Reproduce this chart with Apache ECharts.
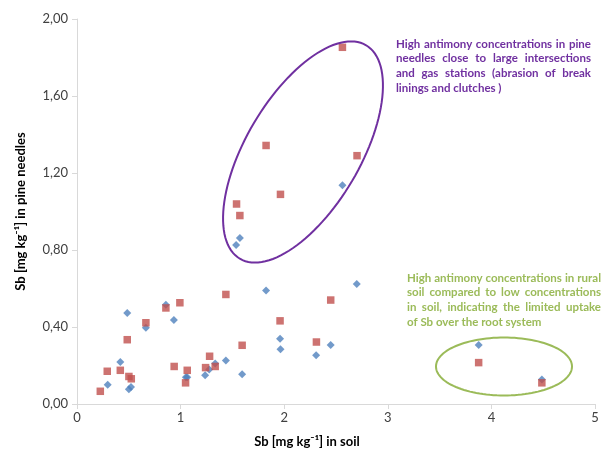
<!DOCTYPE html>
<html>
<head>
<meta charset="utf-8">
<script src="https://cdn.jsdelivr.net/npm/echarts@6/dist/echarts.min.js"></script>
<style>html,body{margin:0;padding:0;background:#fff}#c{width:603px;height:453px}</style>
</head>
<body>
<div id="c"></div>
<script>
// Series A (blue diamonds): [Sb soil, Sb pine needles]
const seriesA = [
  [0.296,0.100],[0.418,0.218],[0.485,0.473],[0.501,0.076],[0.521,0.088],
  [0.665,0.396],[0.858,0.516],[0.935,0.437],[1.051,0.139],[1.064,0.139],
  [1.237,0.150],[1.276,0.179],[1.334,0.210],[1.437,0.226],[1.594,0.155],
  [1.825,0.590],[1.960,0.339],[1.964,0.285],[2.308,0.253],[2.449,0.306],
  [2.700,0.623],[2.562,1.137],[1.572,0.862],[1.536,0.826],[3.877,0.306],
  [4.487,0.127]
];
// Series B (red squares)
const seriesB = [
  [0.225,0.066],[0.292,0.170],[0.418,0.175],[0.485,0.334],[0.501,0.143],
  [0.524,0.131],[0.665,0.422],[0.858,0.499],[0.993,0.526],[0.938,0.195],
  [1.048,0.110],[1.064,0.175],[1.241,0.189],[1.280,0.248],[1.334,0.195],
  [1.437,0.569],[1.594,0.305],[1.960,0.432],[2.311,0.322],[2.449,0.540],
  [2.562,1.853],[1.825,1.343],[2.703,1.290],[1.964,1.089],[1.540,1.039],
  [1.572,0.979],[3.877,0.215],[4.487,0.110]
];
const xTicks = [0,1,2,3,4,5];
const yTicks = [0,0.4,0.8,1.2,1.6,2.0];
const xTitle = 'Sb [mg kg\u207B\u00B9] in soil';
const yTitle = 'Sb [mg kg\u207B\u00B9] in pine needles';
const noteTraffic = [
  'High antimony concentrations in pine',
  'needles close to large intersections',
  'and gas stations  (abrasion of break',
  'linings and clutches )'
];
const noteRural = [
  'High antimony concentrations in rural',
  'soil compared to low concentrations',
  'in soil, indicating the limited uptake',
  'of Sb over the root system'
];

function ellipsePts(cx, cy, a, b, deg) {
  const t = deg * Math.PI / 180, pts = [];
  for (let i = 0; i < 120; i++) {
    const u = i / 120 * 2 * Math.PI;
    const ex = a * Math.cos(u), ey = b * Math.sin(u);
    pts.push([cx + ex * Math.cos(t) - ey * Math.sin(t), cy - (ex * Math.sin(t) + ey * Math.cos(t))]);
  }
  return pts;
}
const NOTE_FONT = 'bold 11.5px Lato';
const ctx = document.createElement('canvas').getContext('2d');
ctx.font = NOTE_FONT;
// Justified paragraph: every line but the last is stretched to the box width
function noteLines(lines, x, y0, lh, width, color) {
  const out = [];
  lines.forEach((s, i) => {
    const y = y0 + i * lh;
    const words = s.split(/ +/);
    const last = i === lines.length - 1;
    if (last || words.length < 2) {
      out.push({ type: 'text', left: x, top: y, z: 10,
        style: { text: s, fill: color, font: NOTE_FONT } });
      return;
    }
    const ww = words.map(w => ctx.measureText(w).width);
    const gap = (width - ww.reduce((p, q) => p + q, 0)) / (words.length - 1);
    let cx = x;
    words.forEach((w, k) => {
      out.push({ type: 'text', x: cx, y: y, z: 10,
        style: { text: w, fill: color, font: NOTE_FONT } });
      cx += ww[k] + gap;
    });
  });
  return out;
}

const chart = echarts.init(document.getElementById('c'), null, {renderer: 'canvas'});
const axisCommon = {
  axisLine: { show: true, lineStyle: { color: '#D9D9D9', width: 1 } },
  axisTick: { show: true, length: 5, lineStyle: { color: '#D9D9D9' } },
  splitLine: { show: false },
  axisLabel: { color: '#404040', fontSize: 13, fontFamily: 'Lato' },
  nameTextStyle: { color: '#000', fontSize: 13, fontWeight: 'bold', fontFamily: 'Lato' }
};
chart.setOption({
  animation: false,
  grid: { left: 77, right: 8, top: 19, bottom: 46 },
  xAxis: Object.assign({}, axisCommon, {
    type: 'value', min: xTicks[0], max: xTicks[xTicks.length - 1], interval: 1,
    name: xTitle, nameLocation: 'middle', nameGap: 31,
    nameTextStyle: Object.assign({}, axisCommon.nameTextStyle, { padding: [0, 58, 0, 0] }),
    axisLabel: Object.assign({}, axisCommon.axisLabel, { margin: 7 })
  }),
  yAxis: Object.assign({}, axisCommon, {
    type: 'value', min: yTicks[0], max: yTicks[yTicks.length - 1], interval: 0.4,
    name: yTitle, nameLocation: 'middle', nameGap: 50, nameRotate: 90,
    axisLabel: Object.assign({}, axisCommon.axisLabel, { margin: 9, formatter: v => v.toFixed(2).replace('.', ',') })
  }),
  series: [
    { type: 'scatter', data: seriesA, symbol: 'diamond', symbolSize: 8,
      itemStyle: { color: '#4F81BD' } },
    { type: 'scatter', data: seriesB, symbol: 'rect', symbolSize: 7.5,
      itemStyle: { color: '#C0504D' } }
  ],
  graphic: [
    { type: 'polygon', shape: { points: ellipsePts(303, 152, 124, 57, 59.4) },
      style: { fill: 'none', stroke: '#7030A0', lineWidth: 2 }, z: 5 },
    { type: 'polygon', shape: { points: ellipsePts(504, 366.5, 68, 29, 0) },
      style: { fill: 'none', stroke: '#9BBB59', lineWidth: 2 }, z: 5 }
  ].concat(noteLines(noteTraffic, 396, 38, 14.6, 195, '#7030A0'))
   .concat(noteLines(noteRural, 407, 272, 14.6, 194, '#9BBB59'))
});
</script>
</body>
</html>
